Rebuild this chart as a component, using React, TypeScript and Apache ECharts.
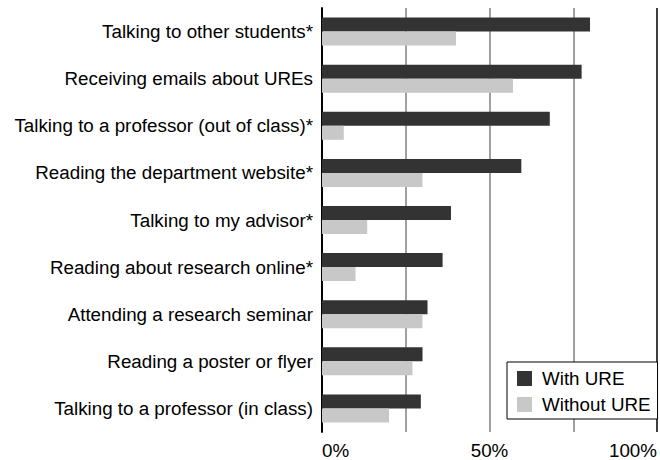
import React, { useEffect, useRef } from "react";
import * as echarts from "echarts";

const categories = [
  "Talking to other students*",
  "Receiving emails about UREs",
  "Talking to a professor (out of class)*",
  "Reading the department website*",
  "Talking to my advisor*",
  "Reading about research online*",
  "Attending a research seminar",
  "Reading a poster or flyer",
  "Talking to a professor (in class)",
];
const withURE = [80, 77.5, 68, 59.5, 38.5, 36, 31.5, 30, 29.5];
const withoutURE = [40, 57, 6.5, 30, 13.5, 10, 30, 27, 20];
const seriesNames = ["With URE", "Without URE"];

const FONT = "'Liberation Sans', Arial, sans-serif";
const FS = 18.8;

export default function App() {
  const ref = useRef<HTMLDivElement>(null);
  useEffect(() => {
    if (!ref.current) return;
    const chart = echarts.init(ref.current, undefined, { renderer: "svg" });
    chart.setOption({
      animation: false,
      textStyle: { fontFamily: FONT },
      grid: { left: 322, right: 2, top: 8, bottom: 28, containLabel: false },
      legend: {
        data: seriesNames,
        orient: "vertical",
        left: 507,
        top: 362,
        padding: [7, 7, 5, 10],
        itemWidth: 15,
        itemHeight: 15,
        itemGap: 7,
        backgroundColor: "#fff",
        borderColor: "#000",
        borderWidth: 1,
        borderRadius: 0,
        icon: "rect",
        textStyle: { fontSize: FS, color: "#000", fontFamily: FONT, padding: [0, 0, 0, 5] },
      },
      xAxis: {
        type: "value",
        min: 0,
        max: 100,
        interval: 25,
        axisLine: { show: false },
        axisTick: { show: false },
        axisLabel: {
          fontSize: FS,
          color: "#000",
          fontFamily: FONT,
          margin: 9,
          alignMinLabel: "left",
          alignMaxLabel: "right",
          formatter: (v: number) => (v % 50 === 0 ? v + "%" : ""),
        },
        splitLine: {
          show: true,
          lineStyle: { color: ["#000", "#808080", "#808080", "#808080", "#000"], width: 1.5 },
        },
      },
      yAxis: {
        type: "category",
        data: categories,
        inverse: true,
        axisLine: { show: true, lineStyle: { color: "#000", width: 2 } },
        axisTick: { show: false },
        axisLabel: { fontSize: FS, color: "#000", fontFamily: FONT, margin: 9 },
      },
      series: [
        {
          name: seriesNames[0],
          type: "bar",
          data: withURE,
          barWidth: 14,
          barGap: "0%",
          itemStyle: { color: "#333333" },
        },
        {
          name: seriesNames[1],
          type: "bar",
          data: withoutURE,
          barWidth: 14,
          barGap: "0%",
          itemStyle: { color: "#c8c8c8" },
        },
      ],
    });
    return () => chart.dispose();
  }, []);
  return <div ref={ref} style={{ width: 660, height: 460, position: "absolute", left: 0, top: 0 }} />;
}
